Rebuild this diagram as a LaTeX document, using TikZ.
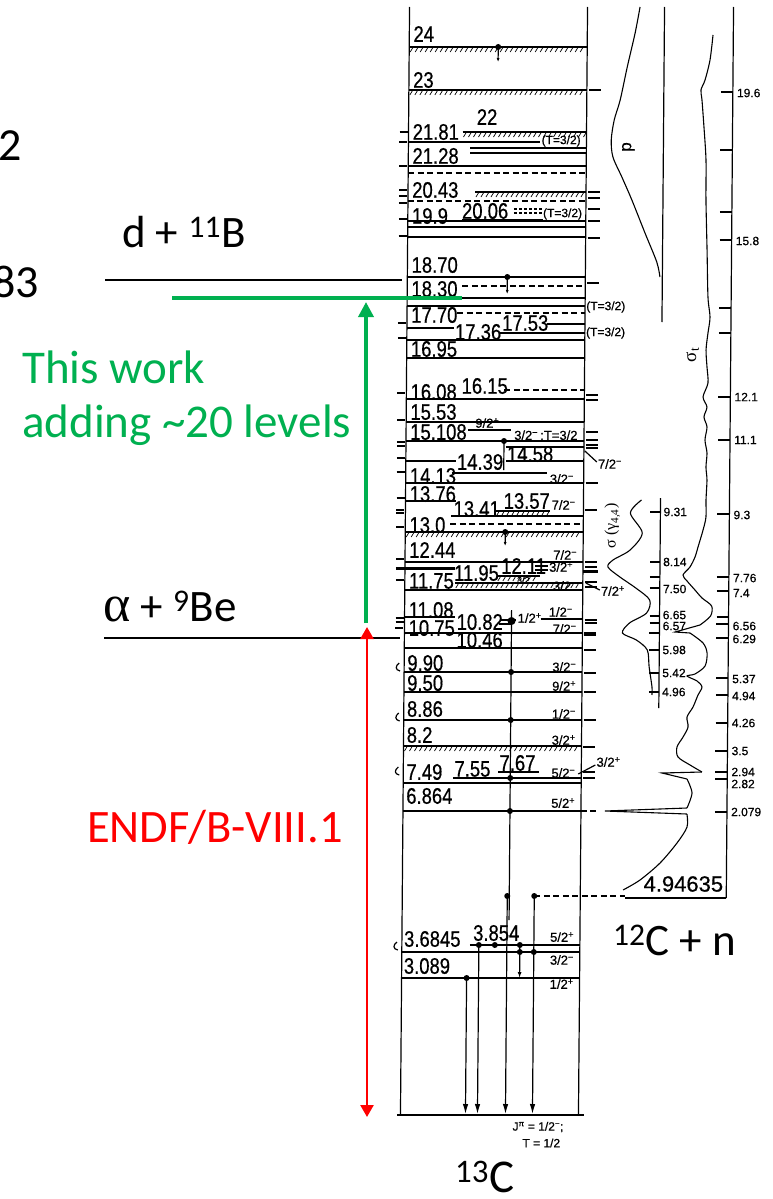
\documentclass[tikz,border=0pt]{standalone}
\usepackage{fontspec}
\usepackage{graphicx}
\newfontfamily\carl{Carlito}
\newfontfamily\scan[FakeBold=0.6]{Liberation Sans}
\newfontfamily\tms{Liberation Serif}
\usetikzlibrary{arrows.meta}
\definecolor{tgreen}{HTML}{00B050}
\definecolor{tred}{HTML}{FF0000}
\newcommand\hs[1]{\scalebox{0.82}[1]{#1}}
\newcommand\jp[2]{#1\textsuperscript{#2}}
\newcommand\hatchline[3]{%
  \draw[lev] (#1,#3) -- (#2,#3);%
  \pgfmathtruncatemacro\hn{(#2-#1-4)/5}%
  \foreach \hi in {0,...,\hn} \draw[hat] (#1+1+5*\hi,#3+5) -- (#1+4+5*\hi,#3);%
}
\tikzset{
  lev/.style={line width=1.2pt},
  hat/.style={line width=0.7pt},
  dsh/.style={line width=1.1pt, dash pattern=on 6pt off 3.5pt},
  num/.style={font=\scan\fontsize{22.5}{22.5}\selectfont, inner sep=0pt, anchor=west},
  spin/.style={font=\scan\fontsize{13}{13}\selectfont, inner sep=0pt, anchor=west},
  axl/.style={font=\scan\fontsize{12}{12}\selectfont, inner sep=0pt, anchor=west},
  dotn/.style={circle, fill, inner sep=0pt, minimum size=6pt},
  gam/.style={line width=1.2pt, -{Latex[length=10pt,width=5.5pt]}},
  sarr/.style={line width=1.2pt, -{Latex[length=4pt,width=3pt]}},
  ann/.style={inner sep=0pt},
}
\begin{document}
\begin{tikzpicture}[x=1pt,y=-1pt]
\useasboundingbox (0,0) rectangle (772,1199);
\clip (0,0) rectangle (772,1199);
\fill[white] (0,0) rectangle (772,1199);

\begin{scope}[xshift=4.6pt, xslant=0.0082]
% frame
\draw[lev] (405,7) -- (405,1115);
\draw[lev] (583,7) -- (583,1115);
\draw[lev] (402,1115) -- (589,1115);
% outside ticks
\foreach \ty in {132,142,166,190,196,203,219,236,323,338,393,420,442,446,458,472,498,510,513,527,559,580,618,622,628}
  \draw[lev] (396,\ty) -- (404,\ty);
\foreach \ty in {668,718,772,947}
  \draw[lev] (400,\ty-5) .. controls (396,\ty-2) and (396,\ty+2) .. (401,\ty+3);
\foreach \ty in {90,192,198,209,221,238,283,395,400,432,440,445,448,483,510,562,567,582,587,620,623,633,635,650,673,692,720,747,772,778}
  \draw[lev] (585,\ty) -- (597,\ty);
% 24
\node[num] (l24) at (409,34) {\hs{24}};
\hatchline{405}{583}{47}
\node[dotn] (d24) at (494,47) {};
\coordinate (e24) at (494,62);
\draw[sarr] (d24.center) -- (e24);
% 23
\node[num] (l23) at (409,80) {\hs{23}};
\hatchline{405}{583}{90}
% 21.81
\node[num] (l2181) at (409,132) {\hs{21.81}};
\node[num] (l22) at (473,117) {\hs{22}};
\hatchline{459}{583}{132}
\draw[lev] (405,142) -- (537,142);
\node[spin, font=\scan\fontsize{12}{12}\selectfont] (t1) at (538,141) {(T=3/2)};
\draw[lev] (467,148) -- (583,148);
\draw[lev] (467,153) -- (583,153);
\node[num] (l2128) at (409,156) {\hs{21.28}};
\draw[lev] (405,166) -- (583,166);
\draw[dsh] (405,173) -- (583,173);
% 20.43
\node[num] (l2043) at (409,190) {\hs{20.43}};
\hatchline{472}{583}{192}
\draw[dsh] (405,201) -- (583,201);
% 19.9 / 20.06
\node[num] (l199) at (409,216) {\hs{19.9}};
\node[num] (l2006) at (459,211) {\hs{20.06}};
\draw[lev, dash pattern=on 3pt off 2pt] (511,209) -- (539,209);
\draw[lev, dash pattern=on 3pt off 2pt] (511,213) -- (539,213);
\node[spin, font=\scan\fontsize{12}{12}\selectfont] (t2) at (540,214) {(T=3/2)};
\draw[line width=2.5pt] (459,220) -- (540,220);
\draw[lev] (405,221) -- (583,221);
\draw[lev] (405,227) -- (583,227);
\draw[lev] (405,237) -- (583,237);
% 18.70 / 18.30
\node[num] (l1870) at (409,265) {\hs{18.70}};
\draw[lev] (405,277) -- (583,277);
\node[dotn] (d1870) at (505,277) {};
\node[num] (l1830) at (409,289) {\hs{18.30}};
\draw[dsh] (460,286) -- (583,286);
\coordinate (e1830) at (505,294);
\draw[sarr] (d1870.center) -- (e1830);
\draw[lev] (405,298) -- (583,298);
\draw[lev] (405,306) -- (583,306);
% 17.70 ...
\node[num] (l1770) at (409,315) {\hs{17.70}};
\draw[dsh] (455,313) -- (583,313);
\draw[lev] (405,328) -- (452,328);
\node[num] (l1736) at (453,332) {\hs{17.36}};
\node[num] (l1753) at (500,323) {\hs{17.53}};
\draw[lev] (545,324) -- (583,324);
\draw[lev] (497,333) -- (583,333);
\draw[lev] (405,340) -- (583,340);
\node[spin, font=\scan\fontsize{12}{12}\selectfont] (t3) at (584,307) {(T=3/2)};
\node[spin, font=\scan\fontsize{12}{12}\selectfont] (t4) at (584,333) {(T=3/2)};
% 16.95
\node[num] (l1695) at (409,349) {\hs{16.95}};
\draw[lev] (405,358) -- (583,358);
% 16.08
\node[num] (l1608) at (409,392) {\hs{16.08}};
\node[num] (l1615) at (460,386) {\hs{16.15}};
\draw[dsh] (503,390) -- (583,390);
\draw[lev] (405,399) -- (583,399);
% 15.53
\node[num] (l1553) at (409,412) {\hs{15.53}};
\draw[lev] (405,422) -- (583,422);
% 15.108
\node[num] (l15108) at (409,432) {\hs{15.108}};
\draw[lev] (467,430) -- (510,430);
\node[spin] (s1) at (474,423) {\jp{9/2}{+}};
\node[spin] (s2) at (513,436) {\jp{3/2}{−}\,;T=3/2};
\draw[lev] (405,441) -- (583,441);
\node[dotn] (d15108) at (503,441) {};
\coordinate (e15108) at (503,470);
\draw[lev] (d15108.center) -- (e15108);
% 14.58 / 14.39
\draw[lev] (505,447) -- (583,447);
\node[num] (l1458) at (506,454) {\hs{14.58}};
\draw[lev] (505,461) -- (583,461);
\draw[lev] (405,461) -- (455,461);
\node[num] (l1439) at (456,462) {\hs{14.39}};
\draw[lev] (596,462) -- (584,451);
\node[spin] (s2b) at (597,464) {\jp{7/2}{−}};
% 14.13
\node[num] (l1413) at (409,476) {\hs{14.13}};
\draw[lev] (451,473) -- (546,473);
\node[spin] (s3) at (549,479) {\jp{3/2}{−}};
\draw[lev] (405,483) -- (583,483);
% 13.76
\node[num] (l1376) at (409,494) {\hs{13.76}};
\draw[lev] (405,501) -- (455,501);
% 13.41 / 13.57
\node[num] (l1341) at (453,509) {\hs{13.41}};
\hatchline{495}{550}{511}
\node[num] (l1357) at (503,501) {\hs{13.57}};
\node[spin] (s4) at (551,505) {\jp{7/2}{−}};
\draw[lev] (451,516) -- (583,516);
% 13.0
\node[num] (l130) at (409,525) {\hs{13.0}};
\draw[dsh] (450,524) -- (583,524);
\hatchline{405}{583}{532}
\node[dotn] (d130) at (505,532) {};
\coordinate (e130) at (505,546);
\draw[sarr] (d130.center) -- (e130);
% 12.44
\node[num] (l1244) at (409,550) {\hs{12.44}};
\node[spin] (s5) at (553,555) {\jp{7/2}{−}};
\draw[lev] (405,562) -- (583,562);
\draw[line width=3pt] (396,568) -- (455,568);
\draw[line width=3pt] (583,571) -- (598,571);
\node[num] (l1211) at (501,566) {\hs{12.11}};
\node[num] (l1195) at (454,573) {\hs{11.95}};
\draw[lev] (535,566) -- (548,566);
\draw[lev] (535,570) -- (548,570);
\node[spin] (s6) at (549,567) {\jp{3/2}{+}};
\hatchline{497}{540}{576}
\node[spin, font=\scan\fontsize{9}{9}\selectfont] (s7) at (517,580) {3/2};
\node[num] (l1175) at (409,581) {\hs{11.75}};
\hatchline{455}{583}{583}
\node[spin] (s8) at (553,586) {\jp{3/2}{−}};
\draw[lev] (405,590) -- (583,590);
\draw[lev] (586,583) -- (600,590);
\node[spin] (s8b) at (601,591) {\jp{7/2}{+}};
% 11.08 / 10.82 / 10.75 / 10.46
\node[num] (l1108) at (409,610) {\hs{11.08}};
\draw[lev] (405,617) -- (455,617);
\node[num] (l1082) at (457,622) {\hs{10.82}};
\draw[lev] (500,620) -- (516,620);
\draw[lev] (500,624) -- (512,624);
\draw[lev] (541,619) -- (583,619);
\node[spin] (s9) at (518,618) {\jp{1/2}{+}};
\node[spin] (s10) at (549,612) {\jp{1/2}{−}};
\node[num] (l1075) at (409,628) {\hs{10.75}};
\draw[lev] (405,633) -- (583,633);
\node[spin] (s11) at (553,629) {\jp{7/2}{−}};
\node[num] (l1046) at (457,640) {\hs{10.46}};
\draw[lev] (405,648) -- (583,648);
\node[dotn, minimum size=8pt] (d1082) at (512,621) {};
% 9.90 ... 8.2
\node[num] (l990) at (408,663) {\hs{9.90}};
\node[spin] (s12) at (553,667) {\jp{3/2}{−}};
\draw[lev] (405,672) -- (583,672);
\node[dotn] (d990) at (512,672) {};
\node[num] (l950) at (408,683) {\hs{9.50}};
\node[spin] (s13) at (553,686) {\jp{9/2}{+}};
\draw[lev] (405,692) -- (583,692);
\node[num] (l886) at (408,709) {\hs{8.86}};
\node[spin] (s14) at (553,714) {\jp{1/2}{−}};
\draw[lev] (405,720) -- (583,720);
\node[dotn] (d886) at (512,720) {};
\node[num] (l82) at (408,735) {\hs{8.2}};
\node[spin] (s15) at (553,740) {\jp{3/2}{+}};
\hatchline{405}{583}{746}
% 7.49 / 7.55 / 7.67
\node[num] (l749) at (408,772) {\hs{7.49}};
\node[num] (l755) at (456,769) {\hs{7.55}};
\node[num] (l767) at (501,763) {\hs{7.67}};
\draw[lev] (500,772) -- (541,772);
\draw[lev] (455,778) -- (583,778);
\node[spin] (s16) at (553,773) {\jp{5/2}{−}};
\draw[lev] (405,783) -- (583,783);
\node[dotn] (d767) at (512,778) {};
\draw[lev] (580,774) .. controls (588,770) .. (597,765);
\node[spin] (s16b) at (598,762) {\jp{3/2}{+}};
% 6.864
\node[num] (l6864) at (408,796) {\hs{6.864}};
\node[spin] (s17) at (553,803) {\jp{5/2}{+}};
\draw[lev] (405,811) -- (583,811);
\node[dotn] (d6864) at (512,811) {};
\draw[dsh] (583,811) -- (600,811);
\coordinate (vtop) at (512,610);
\coordinate (vbot) at (512,920);
\draw[lev] (vtop) -- (vbot);
% neutron threshold
\node[dotn] (dn1) at (510,896) {};
\node[dotn] (dn2) at (537,896) {};
\coordinate (nthr) at (628,896);
\draw[dsh] (dn2.center) -- (nthr);
% low levels
\node[num] (l3854) at (476,933) {\hs{3.854}};
\draw[lev] (473,945) -- (583,945);
\node[spin] (s18) at (553,937) {\jp{5/2}{+}};
\node[num] (l36845) at (407,939) {\hs{3.6845}};
\draw[lev] (405,952) -- (583,952);
\node[spin] (s19) at (553,960) {\jp{3/2}{−}};
\node[num] (l3089) at (407,966) {\hs{3.089}};
\draw[lev] (405,978) -- (583,978);
\node[spin] (s20) at (553,984) {\jp{1/2}{+}};
\node[dotn] (d3a) at (482,945) {};
\node[dotn] (d3b) at (498,945) {};
\node[dotn] (d3c) at (523,945) {};
\node[dotn] (d3d) at (523,952) {};
\node[dotn] (d3e) at (537,952) {};
\node[dotn] (d4) at (470,978) {};
\coordinate (g1) at (470,1114);
\coordinate (g2) at (482,1114);
\coordinate (g3) at (510,1114);
\coordinate (g4) at (537,1114);
\coordinate (e3d) at (523,978);
\draw[gam] (d4.center) -- (g1);
\draw[gam] (d3a.center) -- (g2);
\draw[gam] (dn1.center) -- (g3);
\draw[gam] (dn2.center) -- (g4);
\draw[line width=1.2pt, -{Latex[length=6pt,width=4pt]}] (d3c.center) -- (e3d);
\node[spin, font=\scan\fontsize{12}{12}\selectfont] (jpi) at (517,1127) {J\textsuperscript{π} = \jp{1/2}{−};};
\node[spin, font=\scan\fontsize{12}{12}\selectfont] (tiso) at (527,1143) {T = 1/2};

% right-hand panels
\draw[lev] (660,7) -- (660,322);
\draw[lev] (729,7) -- (729,898);
\draw[lev] (628,898) -- (729,898);
\draw[lev] (660,498) -- (660,708);
\foreach \ty in {92,150,212,240,308,333,397,440,514,577,591,617,624,638,678,695,723,751,772,779,812}
  \draw[lev] (717,\ty) -- (729,\ty);
\foreach \ty/\tl [count=\k] in {93/19.6,241/15.8,397/12.1,440/11.1,515/9.3,578/7.76,593/7.4,626/6.56,639/6.29,679/5.37,696/4.94,723/4.26,751/3.5,772/2.94,784/2.82,812/2.079}
  \node[axl] (ra\k) at (733,\ty) {\tl};
\foreach \ty in {512,562,577,588,616,623,633,650,673,692}
  \draw[lev] (650,\ty) -- (660,\ty);
\foreach \ty/\tl [count=\k] in {512/9.31,562/8.14,589/7.50,615/6.65,626/6.57,650/5.98,673/5.42,692/4.96}
  \node[axl] (ga\k) at (663,\ty) {\tl};
% p curve
\draw[line width=1.1pt] plot[smooth] coordinates {(635.5,7) (630.8,33) (623.2,67) (616.4,100) (610.6,120) (607.8,140) (609.6,157) (618.7,177) (628.9,200) (642.3,233) (654.3,262) (657.6,277)};
\node[font=\scan\fontsize{17}{17}\selectfont, rotate=90, inner sep=0pt] (plab) at (625,147) {p};
% sigma_t curve
\draw[line width=1.1pt] plot[smooth] coordinates {(708.7,35) (705.9,60) (701.1,80) (697.1,90) (698.2,100) (700.4,127) (702.7,160) (703,200) (704.5,250) (705.8,297) (708,317) (706.1,333) (704.3,350) (705.4,367) (706.5,383) (701.7,397) (705.7,407) (702.8,417) (705.9,427) (704,440) (706.1,453) (705.2,467) (706.3,480) (705.5,500) (705.6,517) (702.8,530) (697.9,547) (695,557) (690,567) (683.1,575) (687.2,581) (695.2,590) (702.3,598) (712,606) (711,616) (700.5,625)};
\draw[line width=1.1pt] (700.5,625) -- (675.6,632) -- (690.6,633);
\draw[line width=1.1pt] plot[smooth] coordinates {(690.6,633) (703.7,643) (707.8,653) (705.9,666) (695.9,674) (688,676) (698,681) (703,687) (699.1,695) (694.2,707) (688.3,717) (689.4,727) (684.5,737) (678.5,747) (679.6,757) (691.7,765) (703.7,772)};
\draw[line width=1.1pt] (703.7,772) -- (663.7,773) -- (688.8,779);
\draw[line width=1.1pt] plot[smooth] coordinates {(688.8,779) (693.9,793) (689,808)};
\draw[line width=1.1pt] (689,808) -- (607,811) -- (689,814);
\draw[line width=1.1pt] plot[smooth] coordinates {(689,814) (689.2,827) (679.3,843) (662.5,863) (642.6,880) (625.7,890)};
\node[font=\tms\fontsize{19}{19}\selectfont, rotate=90, inner sep=0pt] (stlab) at (691,355) {σ\textsubscript{t}};
% sigma(gamma) curve
\draw[line width=1.1pt] plot[smooth] coordinates {(641,500) (630,513) (642,533) (630,550) (613,560) (608,567) (620,577) (636,588) (650,600) (647,613) (630,623) (623,633) (637,640) (648,650) (650,667) (653,687) (653,695)};
\node[font=\tms\fontsize{16}{16}\selectfont, rotate=90, inner sep=0pt] (sglab) at (612,526) {σ (γ\textsubscript{4,4})};
\node[font=\scan\fontsize{22}{22}\selectfont, inner sep=0pt] (thr) at (686,884) {4.94635};
\end{scope}

% overlays
\draw[line width=2pt] (105,280) -- (402,280);
\draw[line width=2pt] (104,638) -- (400,638);
\draw[tgreen, line width=4pt] (172,298) -- (462,298);
\coordinate (gbot) at (366,623);
\coordinate (gtop) at (366,302);
\draw[tgreen, line width=3.5pt, -{Triangle[length=15pt,width=15pt]}] (gbot) -- (gtop);
\coordinate (rtop) at (367,627);
\coordinate (rbot) at (367,1117);
\draw[tred, line width=2.5pt, {Triangle[length=12pt,width=13pt]}-{Triangle[length=12pt,width=13pt]}] (rbot) -- (rtop);

\node[ann, font=\carl\fontsize{46}{46}\selectfont, anchor=base east] (c2) at (22,160) {2};
\node[ann, font=\carl\fontsize{46}{46}\selectfont, anchor=base east] (c83) at (39,297) {83};
\node[ann, font=\carl\fontsize{45}{45}\selectfont, anchor=base west] (dB) at (122,247) {d + \textsuperscript{11}B};
\node[ann, text=tgreen, font=\carl\fontsize{47}{47}\selectfont, anchor=base west] (tw1) at (22,383) {This work};
\node[ann, text=tgreen, font=\carl\fontsize{47}{47}\selectfont, anchor=base west] (tw2) at (22,437) {adding \textasciitilde20 levels};
\node[ann, font=\carl\fontsize{45}{45}\selectfont, anchor=base west] (aBe) at (103,621) {{\tms\fontsize{52}{52}\selectfont α} + \textsuperscript{9}Be};
\node[ann, text=tred, font=\carl\fontsize{46.5}{46.5}\selectfont, anchor=base west] (endf) at (87,842) {ENDF/B-VIII.1};
\node[ann, font=\carl\fontsize{47}{47}\selectfont, anchor=base west] (c13) at (455,1192) {\textsuperscript{13}C};
\node[ann, font=\carl\fontsize{45}{45}\selectfont, anchor=base west] (c12n) at (613,955) {\textsuperscript{12}C + n};
\end{tikzpicture}
\end{document}
